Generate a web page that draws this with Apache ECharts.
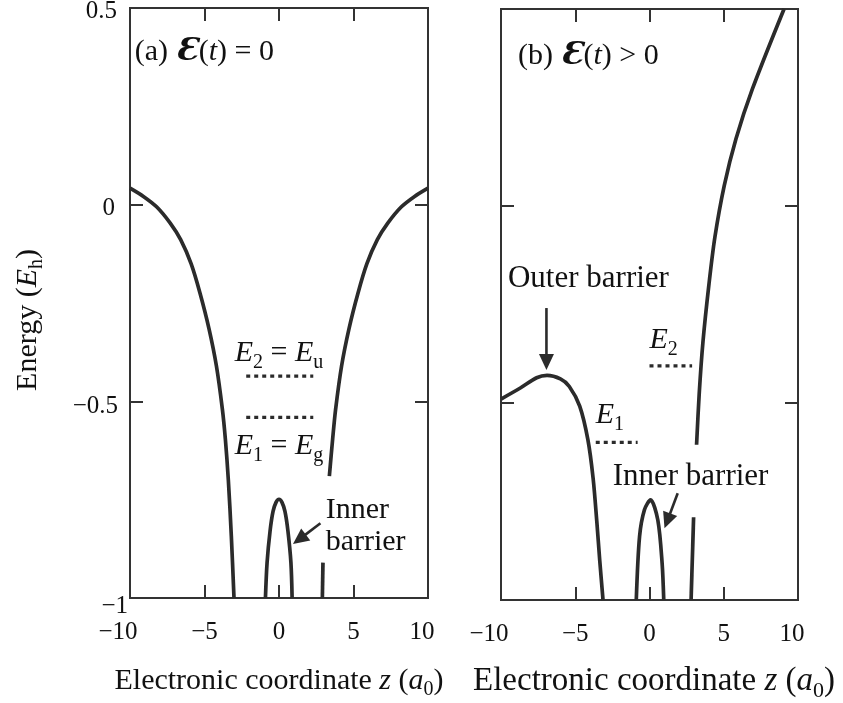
<!DOCTYPE html>
<html>
<head>
<meta charset="utf-8">
<script src="https://cdn.jsdelivr.net/npm/echarts@6/dist/echarts.min.js"></script>
<style>
  html, body { margin: 0; padding: 0; background: #fff; }
  #chart { width: 843px; height: 703px; }
</style>
</head>
<body>
<div id="chart"></div>
<script>
// ---- axes ----
const zRange = [-10, 10];
const zStep = 5;
const energyRange = [-1, 0.5];
const energyStep = 0.5;

// ---- (a) no field: symmetric double-well potential ----
const aOuterLeftZ = [-10, -9.1, -8.2, -7.3, -6.6, -5.9, -5.3, -4.7, -4.2, -3.8, -3.6, -3.4, -3.2, -3.02];
const aOuterLeftE = [0.042, 0.021, -0.006, -0.047, -0.089, -0.15, -0.225, -0.315, -0.41, -0.52, -0.596, -0.70, -0.842, -1.0];
const aOuterRightZ = [10, 9.1, 8.2, 7.3, 6.6, 5.9, 5.3, 4.7, 4.2, 3.8, 3.6, 3.38];
const aOuterRightE = [0.042, 0.021, -0.006, -0.047, -0.089, -0.15, -0.225, -0.315, -0.41, -0.52, -0.596, -0.69];
const aStubZ = [2.95, 2.91];
const aStubE = [-0.91, -1.0];
const aInnerZ = [-0.91, -0.8, -0.6, -0.4, -0.2, 0, 0.2, 0.4, 0.6, 0.8, 0.88];
const aInnerE = [-1.0, -0.91, -0.83, -0.78, -0.757, -0.749, -0.757, -0.78, -0.83, -0.91, -1.0];
const aLevelSpan = [-2.2, 2.3];
const aLevelE2 = -0.436;
const aLevelE1 = -0.541;

// ---- (b) field on: tilted potential ----
const bOuterLeftZ = [-10, -8.7, -7.6, -6.9, -6.0, -5.4, -4.7, -4.15, -3.8, -3.55, -3.35, -3.13];
const bOuterLeftE = [-0.49, -0.462, -0.436, -0.43, -0.439, -0.458, -0.508, -0.593, -0.69, -0.8, -0.9, -1.0];
const bOuterRightZ = [9.06, 6.93, 5.82, 5.03, 4.4, 4.0, 3.6, 3.35, 3.17];
const bOuterRightE = [0.5, 0.297, 0.17, 0.051, -0.08, -0.2, -0.345, -0.475, -0.606];
const bStubZ = [2.97, 2.8];
const bStubE = [-0.79, -1.0];
const bInnerZ = [-0.89, -0.67, -0.34, 0.07, 0.56, 0.85, 0.96];
const bInnerE = [-1.0, -0.839, -0.771, -0.746, -0.797, -0.907, -1.0];
const bLevelE1Span = [-3.62, -0.8];
const bLevelE1 = -0.6;
const bLevelE2Span = [0, 2.87];
const bLevelE2 = -0.406;

// ---- styling ----
const SERIF = '"Liberation Serif", "Times New Roman", "DejaVu Serif", serif';
const INK = '#111';
const FRAME = '#333';
const CURVE = '#2b2b2b';

const minus = v => (v < 0 ? '\u2212' + String(-v) : String(v));
const pairs = (zs, es) => zs.map((z, i) => [z, es[i]]);

const chart = echarts.init(document.getElementById('chart'), null, { renderer: 'canvas' });

const grids = [
  { left: 130, top: 8, width: 298, height: 590, show: false, containLabel: false, outerBoundsMode: 'none' },
  { left: 501, top: 9, width: 297, height: 591, show: false, containLabel: false, outerBoundsMode: 'none' }
];

const tickStyle = () => ({ show: true, inside: true, length: 13, lineStyle: { color: FRAME, width: 2 } });
const frameLine = () => ({ show: true, onZero: false, lineStyle: { color: FRAME, width: 2, cap: 'square' } });

function xNameStyle(size, shift) {
  return {
    fontFamily: SERIF, fontSize: size, lineHeight: size, color: INK, padding: [0, 0, 0, shift],
    rich: {
      i: { fontFamily: SERIF, fontSize: size, fontStyle: 'italic', lineHeight: size, color: INK },
      s: { fontFamily: SERIF, fontSize: Math.round(size * 0.66), lineHeight: Math.round(size * 0.66), padding: [Math.round(size * 0.6), 0, 0, 0], color: INK }
    }
  };
}

function xAxesFor(g, nameSize, nameShift, nameGap) {
  const base = () => ({
    gridIndex: g, type: 'value', min: zRange[0], max: zRange[1], interval: zStep,
    splitLine: { show: false }, axisLine: frameLine(), axisTick: tickStyle()
  });
  const tickRich = {
    lo: { fontFamily: SERIF, fontSize: 25, color: INK, padding: [0, 24, 0, 0] },
    hi: { fontFamily: SERIF, fontSize: 25, color: INK, padding: [0, 12, 0, 0] }
  };
  return [
    Object.assign(base(), {
      position: 'bottom',
      axisLabel: {
        margin: 22, fontFamily: SERIF, fontSize: 25, color: INK,
        showMinLabel: true, showMaxLabel: true,
        formatter: v => v === zRange[0] ? '{lo|' + minus(v) + '}' : v === zRange[1] ? '{hi|' + minus(v) + '}' : minus(v),
        rich: tickRich
      },
      name: 'Electronic coordinate {i|z} ({i|a}{s|0})',
      nameLocation: 'middle',
      nameGap: nameGap,
      nameTextStyle: xNameStyle(nameSize, nameShift)
    }),
    Object.assign(base(), { position: 'top', axisLabel: { show: false } })
  ];
}

function yAxesFor(g, withLabels) {
  const base = () => ({
    gridIndex: g, type: 'value', min: energyRange[0], max: energyRange[1], interval: energyStep,
    splitLine: { show: false }, axisLine: frameLine(), axisTick: tickStyle()
  });
  const lab = (top, right) => ({ fontFamily: SERIF, fontSize: 25, color: INK, padding: [top, right, 0, 0] });
  return [
    Object.assign(base(), {
      position: 'left',
      axisLabel: withLabels ? {
        margin: 2, showMinLabel: true, showMaxLabel: true,
        formatter: v => {
          const key = v === 0.5 ? 'p' : v === 0 ? 'z' : v === -0.5 ? 'h' : 'm';
          return '{' + key + '|' + minus(v) + '}';
        },
        rich: { p: lab(7, 11), z: lab(8, 13), h: lab(11, 10), m: lab(17, 0) }
      } : { show: false }
    }),
    Object.assign(base(), { position: 'right', axisLabel: { show: false } })
  ];
}

function curve(g, data) {
  return {
    type: 'line', xAxisIndex: g * 2, yAxisIndex: g * 2, data,
    showSymbol: false, symbol: 'none', smooth: 0.3, clip: true, silent: true,
    lineStyle: { color: CURVE, width: 3.7 }
  };
}
function level(g, span, e) {
  return {
    type: 'line', xAxisIndex: g * 2, yAxisIndex: g * 2, data: [[span[0], e], [span[1], e]],
    showSymbol: false, symbol: 'none', silent: true,
    lineStyle: { color: CURVE, width: 3.2, type: [4, 4], cap: 'butt' }
  };
}

chart.setOption({
  animation: false,
  backgroundColor: '#fff',
  grid: grids,
  xAxis: [...xAxesFor(0, 30, 0, 68), ...xAxesFor(1, 33, 9, 65)],
  yAxis: [...yAxesFor(0, true), ...yAxesFor(1, false)],
  series: [
    curve(0, pairs(aOuterLeftZ, aOuterLeftE)),
    curve(0, pairs(aOuterRightZ, aOuterRightE)),
    curve(0, pairs(aStubZ, aStubE)),
    curve(0, pairs(aInnerZ, aInnerE)),
    level(0, aLevelSpan, aLevelE2),
    level(0, aLevelSpan, aLevelE1),
    curve(1, pairs(bOuterLeftZ, bOuterLeftE)),
    curve(1, pairs(bOuterRightZ, bOuterRightE)),
    curve(1, pairs(bStubZ, bStubE)),
    curve(1, pairs(bInnerZ, bInnerE)),
    level(1, bLevelE1Span, bLevelE1),
    level(1, bLevelE2Span, bLevelE2)
  ]
});

// ---- annotations, anchored in data coordinates ----
const toPx = (g, z, e) => chart.convertToPixel({ xAxisIndex: g * 2, yAxisIndex: g * 2 }, [z, e]);

function noteRich(size) {
  return {
    i: { fontFamily: SERIF, fontSize: size, fontStyle: 'italic', lineHeight: size, fill: INK },
    e: { fontFamily: '"DejaVu Serif", ' + SERIF, fontSize: 32, fontWeight: 'bold', fontStyle: 'italic', lineHeight: size, fill: INK },
    s: { fontFamily: SERIF, fontSize: 20, lineHeight: 20, padding: [18, 0, 0, 0], fill: INK }
  };
}

function note(g, z, e, text, align, size, extra) {
  const p = toPx(g, z, e);
  return {
    type: 'text', x: p[0], y: p[1], silent: true,
    style: Object.assign({
      text, fontFamily: SERIF, fontSize: size, lineHeight: size, fill: INK,
      align: align, textAlign: align, verticalAlign: 'middle', textVerticalAlign: 'middle',
      rich: noteRich(size)
    }, extra || {})
  };
}

function arrow(g, from, to) {
  const a = toPx(g, from[0], from[1]);
  const b = toPx(g, to[0], to[1]);
  const dx = b[0] - a[0], dy = b[1] - a[1];
  const len = Math.hypot(dx, dy);
  const ux = dx / len, uy = dy / len;
  const headL = 16, headW = 7.5;
  const bx = b[0] - ux * headL, by = b[1] - uy * headL;
  return [
    { type: 'line', silent: true, shape: { x1: a[0], y1: a[1], x2: bx + ux * 2, y2: by + uy * 2 },
      style: { stroke: CURVE, lineWidth: 2.6 } },
    { type: 'polygon', silent: true,
      shape: { points: [[b[0], b[1]], [bx - uy * headW, by + ux * headW], [bx + uy * headW, by - ux * headW]] },
      style: { fill: CURVE } }
  ];
}

const graphics = [
  note(0, -9.68, 0.389, '(a) {e|\u0190}({i|t}) = 0', 'left', 30),
  note(0, 0, -0.378, '{i|E}{s|2} = {i|E}{s|u}', 'center', 30),
  note(0, 0, -0.615, '{i|E}{s|1} = {i|E}{s|g}', 'center', 30),
  note(0, 3.13, -0.817, 'Inner\nbarrier', 'left', 30, { lineHeight: 32 }),
  ...arrow(0, [2.78, -0.81], [0.94, -0.863]),

  note(1, -8.86, 0.381, '(b) {e|\u0190}({i|t}) > 0', 'left', 30),
  note(1, -9.53, -0.186, 'Outer barrier', 'left', 31),
  note(1, 0, -0.341, '{i|E}{s|2}', 'left', 30),
  note(1, -3.62, -0.532, '{i|E}{s|1}', 'left', 30),
  note(1, -2.48, -0.687, 'Inner barrier', 'left', 31),
  ...arrow(1, [-6.94, -0.259], [-6.94, -0.416]),
  ...arrow(1, [1.9, -0.729], [1.01, -0.818]),

  {
    type: 'text', x: 28, y: 320, rotation: Math.PI / 2, silent: true,
    style: {
      text: 'Energy ({i|E}{s|h})', fontFamily: SERIF, fontSize: 30, lineHeight: 30, fill: INK,
      align: 'center', textAlign: 'center', verticalAlign: 'middle', textVerticalAlign: 'middle',
      rich: noteRich(30)
    }
  }
];

chart.setOption({ graphic: graphics });
</script>
</body>
</html>
